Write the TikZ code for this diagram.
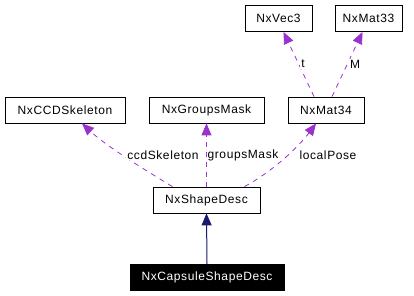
\documentclass[tikz,border=0pt]{standalone}
\usepackage{fontspec}
\setmainfont{Liberation Sans}[LetterSpace=5]
\usetikzlibrary{arrows.meta, positioning, calc}
\definecolor{memberclr}{HTML}{9A32CD}
\definecolor{inheritclr}{HTML}{191970}

\begin{document}
\begin{tikzpicture}[
  x=1pt, y=-1pt,
  cls/.style={rectangle, draw, line width=0.8pt, minimum height=26pt, inner sep=0pt, font=\fontsize{12}{14}\selectfont},
  current/.style={cls, fill=black, text=white},
  member/.style={-{Triangle[length=12pt, width=10pt, fill=memberclr]}, draw=memberclr, line width=0.8pt, dash pattern=on 5pt off 5pt},
  inherit/.style={-{Triangle[length=12pt, width=10pt, fill=inheritclr]}, draw=inheritclr, line width=1pt},
  lbl/.style={font=\fontsize{12}{14}\selectfont, fill=white, inner sep=1pt}
]
  \useasboundingbox (0,0) rectangle (414,296);

  % classes
  \node[cls, minimum width=67pt] (vec3) at (278.5,18.5) {NxVec3};
  \node[cls, minimum width=67pt] (mat33) at (368.5,18.5) {NxMat33};
  \node[cls, minimum width=120pt] (ccd) at (65,110) {NxCCDSkeleton};
  \node[cls, minimum width=115pt] (groups) at (206.5,110) {NxGroupsMask};
  \node[cls, minimum width=76pt] (mat34) at (326,110) {NxMat34};
  \node[cls, minimum width=107pt] (shape) at (206.5,200) {NxShapeDesc};
  \node[current, minimum width=154pt] (capsule) at (207,277.5) {NxCapsuleShapeDesc};

  % usage relations
  \draw[member] ($(shape.north)+(-34,0)$) .. controls (140,167) and (105,145) .. ($(ccd.south)+(17,0)$);
  \draw[member] (shape.north) -- (groups.south);
  \draw[member] ($(shape.north)+(38,0)$) .. controls (275,170) and (300,145) .. ($(mat34.south)+(-10,0)$);
  \draw[member] ($(mat34.north)+(-12,0)$) -- ($(vec3.south)+(5,0)$);
  \draw[member] ($(mat34.north)+(6,0)$) -- ($(mat33.south)+(-6,0)$);

  \node[lbl] (ccdlbl) at (163,155) {ccdSkeleton};
  \node[lbl] (grplbl) at (243,155) {groupsMask};
  \node[lbl] (poselbl) at (328,155) {localPose};
  \node[lbl] (tlbl) at (303,64) {t};
  \node[lbl] (mlbl) at (355,64) {M};

  % inheritance
  \draw[inherit] (capsule.north) -- (shape.south);
\end{tikzpicture}
\end{document}
